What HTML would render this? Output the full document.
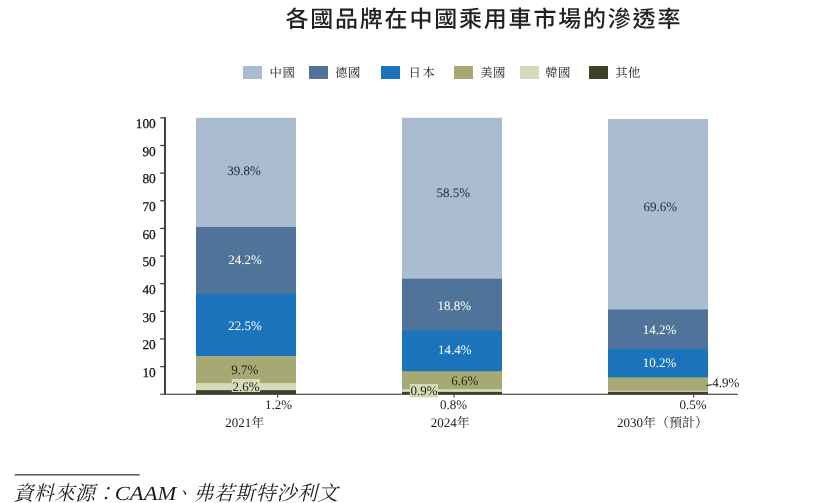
<!DOCTYPE html>
<html lang="zh-Hant">
<head>
<meta charset="utf-8">
<title>各國品牌在中國乘用車市場的滲透率</title>
<style>
html,body{margin:0;padding:0;background:#fff;}
body{width:825px;height:503px;overflow:hidden;position:relative;}
svg{display:block;position:absolute;left:0;top:0;}
text{font-family:"Liberation Serif", "Noto Serif CJK SC", serif;font-size:13px;fill:#1a1a1a;text-rendering:geometricPrecision;}
.title{font-family:"Liberation Sans", "Noto Sans CJK TC", sans-serif;font-size:23px;font-weight:500;fill:#222;letter-spacing:1.8px;}
.lg{font-size:12.4px;letter-spacing:0.4px;fill:#1c1c1c;}
.yl{text-anchor:end;fill:#111;font-size:13.4px;stroke:#111;stroke-width:0.25px;}
.dk{fill:#1d2632;}
.wh{fill:#fff;}
.ol{fill:#262910;}
.src{font-style:italic;font-size:20px;fill:#1c1c1c;letter-spacing:0.45px;}
.src.lat{letter-spacing:0px;}
</style>
</head>
<body>
<svg width="825" height="503" viewBox="0 0 825 503">
<rect x="0" y="0" width="825" height="503" fill="#ffffff"/>

<g transform="translate(285.4,26.6) scale(1,1)"><text class="title" x="0" y="0">各國品牌在中國乘用車市場的滲透率</text></g>
<rect x="243" y="66" width="19" height="13" fill="#aabccf"/>
<text class="lg" x="269.6" y="77.2">中國</text>
<rect x="309" y="66" width="19" height="13" fill="#4f7399"/>
<text class="lg" x="335.1" y="77.2">德國</text>
<rect x="381" y="66" width="19" height="13" fill="#1a73bb"/>
<text class="lg" x="408.6" y="77.2" style="letter-spacing:1.4px">日本</text>
<rect x="454" y="66" width="19" height="13" fill="#a6a974"/>
<text class="lg" x="480.3" y="77.2">美國</text>
<rect x="520" y="66" width="19" height="13" fill="#d7dab8"/>
<text class="lg" x="545.2" y="77.2">韓國</text>
<rect x="589" y="66" width="19" height="13" fill="#3d4126"/>
<text class="lg" x="615.2" y="77.2">其他</text>
<rect x="196" y="117.8" width="100" height="276.4" fill="#aabccf"/>
<rect x="196" y="227.0" width="100" height="167.2" fill="#4f7399"/>
<rect x="196" y="293.7" width="100" height="100.5" fill="#1a73bb"/>
<rect x="196" y="356.0" width="100" height="38.2" fill="#a6a974"/>
<rect x="196" y="383.1" width="100" height="11.1" fill="#d7dab8"/>
<rect x="196" y="390.2" width="100" height="4.0" fill="#3d4126"/>
<rect x="402" y="117.8" width="100" height="276.4" fill="#aabccf"/>
<rect x="402" y="278.7" width="100" height="115.5" fill="#4f7399"/>
<rect x="402" y="330.7" width="100" height="63.5" fill="#1a73bb"/>
<rect x="402" y="371.2" width="100" height="23.0" fill="#a6a974"/>
<rect x="402" y="389.2" width="100" height="5.0" fill="#d7dab8"/>
<rect x="402" y="391.9" width="100" height="2.3" fill="#3d4126"/>
<rect x="608" y="119.0" width="100" height="275.2" fill="#aabccf"/>
<rect x="608" y="309.5" width="100" height="84.7" fill="#4f7399"/>
<rect x="608" y="348.8" width="100" height="45.4" fill="#1a73bb"/>
<rect x="608" y="377.3" width="100" height="16.9" fill="#a6a974"/>
<rect x="608" y="390.8" width="100" height="3.4" fill="#d7dab8"/>
<rect x="608" y="391.9" width="100" height="2.3" fill="#3d4126"/>
<rect x="164" y="117.2" width="2" height="277.5" fill="#404040"/>
<rect x="160" y="393.7" width="578" height="1.1" fill="#404040"/>
<rect x="160.2" y="117.20" width="5" height="1.3" fill="#404040"/>
<text class="yl" x="155.8" y="128.0">100</text>
<rect x="160.2" y="144.84" width="5" height="1.3" fill="#404040"/>
<text class="yl" x="155.8" y="155.6">90</text>
<rect x="160.2" y="172.48" width="5" height="1.3" fill="#404040"/>
<text class="yl" x="155.8" y="183.3">80</text>
<rect x="160.2" y="200.12" width="5" height="1.3" fill="#404040"/>
<text class="yl" x="155.8" y="210.9">70</text>
<rect x="160.2" y="227.76" width="5" height="1.3" fill="#404040"/>
<text class="yl" x="155.8" y="238.6">60</text>
<rect x="160.2" y="255.40" width="5" height="1.3" fill="#404040"/>
<text class="yl" x="155.8" y="266.2">50</text>
<rect x="160.2" y="283.04" width="5" height="1.3" fill="#404040"/>
<text class="yl" x="155.8" y="293.8">40</text>
<rect x="160.2" y="310.68" width="5" height="1.3" fill="#404040"/>
<text class="yl" x="155.8" y="321.5">30</text>
<rect x="160.2" y="338.32" width="5" height="1.3" fill="#404040"/>
<text class="yl" x="155.8" y="349.1">20</text>
<rect x="160.2" y="365.96" width="5" height="1.3" fill="#404040"/>
<text class="yl" x="155.8" y="376.8">10</text>
<rect x="277.1" y="394" width="1.1" height="3.6" fill="#404040"/>
<rect x="453.4" y="394" width="1.1" height="3.6" fill="#404040"/>
<rect x="693.2" y="394" width="1.1" height="3.6" fill="#404040"/>
<line x1="706.3" y1="385.6" x2="711.8" y2="384.6" stroke="#404040" stroke-width="1.4"/>
<rect x="231.8" y="379" width="28.2" height="13" fill="#d7dab8"/>
<rect x="409.8" y="384" width="28.2" height="13.5" fill="#d7dab8"/>
<text class="dk" x="227.2" y="175">39.8%</text>
<text class="wh" x="228.2" y="264">24.2%</text>
<text class="wh" x="228.2" y="330">22.5%</text>
<text class="ol" x="231.2" y="374.2">9.7%</text>
<text class="ol" x="232.6" y="390.8">2.6%</text>
<text x="265.0" y="408.6">1.2%</text>
<text class="dk" x="436.5" y="196.9">58.5%</text>
<text class="wh" x="437.6" y="309.8">18.8%</text>
<text class="wh" x="437.9" y="353.8">14.4%</text>
<text class="ol" x="451.3" y="384.6">6.6%</text>
<text class="ol" x="410.4" y="394.7">0.9%</text>
<text x="440.0" y="408.8">0.8%</text>
<text class="dk" x="643.4" y="210.9">69.6%</text>
<text class="wh" x="642.8" y="333.9">14.2%</text>
<text class="wh" x="642.8" y="366.7">10.2%</text>
<text x="712.2" y="387">4.9%</text>
<text x="679.6" y="408.7">0.5%</text>
<text x="225.3" y="426.8">2021年</text>
<text x="430.8" y="426.7">2024年</text>
<text x="616.9" y="426.9">2030年（預計）</text>
<rect x="14.8" y="474.2" width="124.9" height="1.3" fill="#404040"/>
<text class="src" x="13.6" y="500">資料來源：</text>
<g transform="translate(114.8,500) scale(1.13,1)"><text class="src lat" x="0" y="0">CAAM</text></g>
<text class="src" x="172.9" y="500" style="letter-spacing:0.7px">、弗若斯特沙利文</text>
</svg>
</body>
</html>
